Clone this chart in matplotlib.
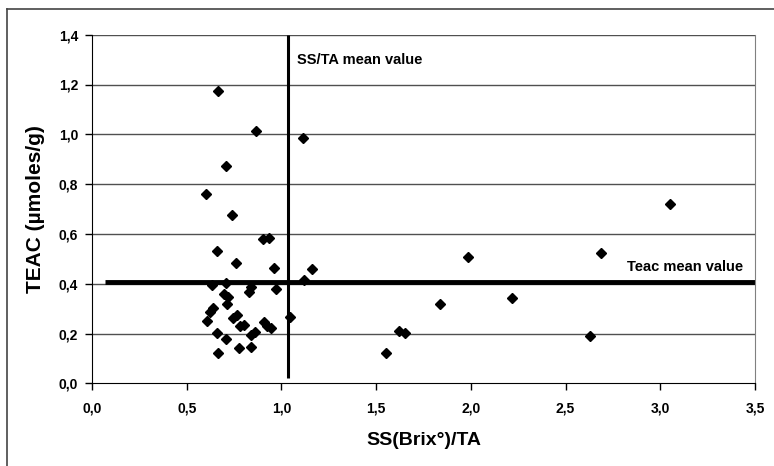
import matplotlib
matplotlib.use("Agg")
import matplotlib.pyplot as plt
from matplotlib.lines import Line2D

# SS/TA ratio and TEAC antioxidant capacity of each sample
ss_ta = [0.667, 0.864, 1.116, 0.706, 0.604, 0.740, 0.902, 0.937, 0.659, 0.761,
         0.963, 1.164, 1.120, 0.632, 0.706, 0.840, 0.829, 0.972, 0.699, 0.717,
         0.713, 0.641, 0.623, 0.606, 0.764, 0.746, 1.046, 0.782, 0.805, 0.908,
         0.924, 0.946, 0.659, 0.840, 0.861, 0.708, 0.778, 0.840, 0.664, 1.553,
         1.620, 1.650, 1.838, 1.986, 2.217, 2.627, 2.689, 3.049]
teac = [1.175, 1.014, 0.984, 0.874, 0.760, 0.677, 0.580, 0.585, 0.531, 0.482,
        0.462, 0.459, 0.415, 0.394, 0.401, 0.386, 0.365, 0.377, 0.359, 0.348,
        0.318, 0.301, 0.288, 0.252, 0.274, 0.261, 0.266, 0.230, 0.234, 0.248,
        0.232, 0.221, 0.203, 0.194, 0.207, 0.176, 0.140, 0.144, 0.123, 0.120,
        0.210, 0.204, 0.318, 0.506, 0.344, 0.190, 0.522, 0.719]

ss_ta_mean = 1.035
teac_mean = 0.407

x_ticks = [0.0, 0.5, 1.0, 1.5, 2.0, 2.5, 3.0, 3.5]
y_ticks = [0.0, 0.2, 0.4, 0.6, 0.8, 1.0, 1.2, 1.4]

plain = ['Liberation Sans', 'DejaVu Sans']

fig = plt.figure(figsize=(7.74, 4.66), dpi=100)
ax = fig.add_axes([92 / 774, 1 - 383.3 / 466, (755 - 92) / 774, (383.3 - 34.7) / 466])

# outer chart frame (only left and top edges fall inside the image)
fig.add_artist(Line2D([7 / 774, 7 / 774], [0, 1 - 9 / 466], color='#444444', lw=1.2))
fig.add_artist(Line2D([7 / 774, 1], [1 - 9 / 466, 1 - 9 / 466], color='#444444', lw=1.2))

for yv in y_ticks[1:]:
    ax.axhline(yv, color='#505050', lw=1.0, zorder=1)

ax.plot(ss_ta, teac, linestyle='none', marker='D', markersize=5.2,
        color='black', zorder=3)

# mean value lines
ax.plot([0.07, 3.5], [teac_mean, teac_mean], color='black', lw=3.5, zorder=2,
        solid_capstyle='butt')
ax.plot([ss_ta_mean, ss_ta_mean], [0.02, 1.4], color='black', lw=2.2, zorder=2,
        solid_capstyle='butt')

ax.text(1.083, 1.298, 'SS/TA mean value', fontsize=10.5, fontweight='bold',
        family=plain, va='center', ha='left')
ax.text(2.826, 0.468, 'Teac mean value', fontsize=10.5, fontweight='bold',
        family=plain, va='center', ha='left')

ax.set_xlim(0, 3.5)
ax.set_ylim(0, 1.4)
ax.set_xticks(x_ticks)
ax.set_yticks(y_ticks)
ax.set_xticklabels([f'{v:.1f}'.replace('.', ',') for v in x_ticks],
                   fontsize=10, fontweight='bold', family=plain)
ax.set_yticklabels([f'{v:.1f}'.replace('.', ',') for v in y_ticks],
                   fontsize=10, fontweight='bold', family=plain)
ax.tick_params(axis='x', direction='out', length=5, width=1, pad=8, color='black')
ax.tick_params(axis='y', direction='out', length=5, width=1, pad=5, color='black')

ax.spines['top'].set_visible(False)
ax.spines['right'].set_color('#808080')
ax.spines['left'].set_color('black')
ax.spines['bottom'].set_color('black')

ax.set_xlabel('SS(Brix°)/TA', fontsize=14, fontweight='bold', family=plain,
              labelpad=12)
ax.set_ylabel('TEAC (µmoles/g)', fontsize=15, fontweight='bold', family=plain,
              labelpad=10)

fig.savefig('out.png', dpi=100)
